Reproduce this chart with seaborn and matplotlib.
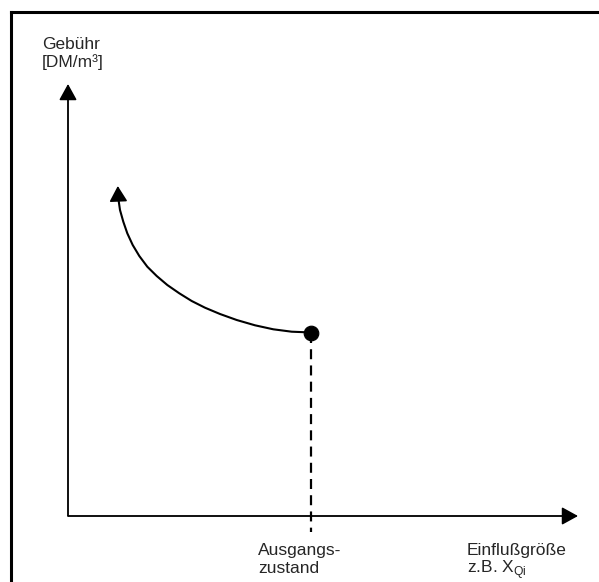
import matplotlib
matplotlib.use("Agg")
import matplotlib.pyplot as plt
import seaborn as sns
import pandas as pd

# Fee curve: rising fee as the influence variable moves away from the base state
curve_x = [243.0, 238.7, 223.7, 205.3, 187.0, 168.7, 152.0, 137.0, 123.7, 111.3,
           99.3, 88.7, 79.3, 71.3, 64.7, 59.3, 55.3, 52.0, 50.3, 49.8]
curve_y = [183.0, 183.7, 184.3, 186.7, 190.7, 196.0, 202.0, 208.3, 215.0, 222.7,
           231.0, 240.0, 249.3, 260.0, 271.0, 282.7, 294.3, 306.0, 317.7, 330.0]
base_x = [243]
base_y = [183]

y_label = ["Gebühr", "[DM/m³]"]
base_label = ["Ausgangs-", "zustand"]
x_label = ["Einflußgröße", "z.B. X$_{\\mathrm{Qi}}$"]

sns.set_style("white")
plt.rcParams["font.family"] = ["Liberation Sans", "DejaVu Sans"]
plt.rcParams["mathtext.fontset"] = "custom"
plt.rcParams["mathtext.rm"] = "Liberation Sans"

fig = plt.figure(figsize=(5.99, 5.82), dpi=100)
ax = fig.add_axes([0, 0, 1, 1])
ax.set_xlim(-68, 531)
ax.set_ylim(-66, 516)
ax.axis("off")

# Outer frame (top and left edges visible)
ax.plot([-57.5, 540], [504.5, 504.5], color="black", lw=2.2, clip_on=False,
        solid_capstyle="projecting")
ax.plot([-57.5, -57.5], [504.5, -80], color="black", lw=2.2, clip_on=False,
        solid_capstyle="projecting")

# Coordinate axes with arrowheads
axis_color = "#3a3a3a"
head = "-|>,head_length=1.0,head_width=0.55"
ax.annotate("", xy=(0, 432), xytext=(0, 0),
            arrowprops=dict(arrowstyle=head, color="black", lw=1.1,
                            mutation_scale=10, shrinkA=0, shrinkB=0))
ax.annotate("", xy=(510, 0), xytext=(0, 0),
            arrowprops=dict(arrowstyle=head, color="black", lw=1.1,
                            mutation_scale=10, shrinkA=0, shrinkB=0))
ax.plot([0, 0], [0, 420], color=axis_color, lw=1.2, solid_capstyle="butt")
ax.plot([0, 498], [0, 0], color=axis_color, lw=1.2, solid_capstyle="butt")

# Dashed marker for the base state
ax.plot([base_x[0], base_x[0]], [base_y[0], -16], color="black", lw=1.6,
        dashes=(4.5, 2.8))

# Fee curve
df = pd.DataFrame({"x": curve_x[:-1], "y": curve_y[:-1]})
sns.lineplot(data=df, x="x", y="y", sort=False, color="black", lw=1.5,
             ax=ax, legend=False, solid_joinstyle="round")
ax.annotate("", xy=(curve_x[-1], curve_y[-1]), xytext=(curve_x[-2], curve_y[-2]),
            arrowprops=dict(arrowstyle="-|>,head_length=0.95,head_width=0.55",
                            color="black", lw=1.2, mutation_scale=10,
                            shrinkA=0, shrinkB=0))
sns.scatterplot(x=base_x, y=base_y, s=110, color="black", edgecolor="black",
                ax=ax, zorder=5, legend=False)
ax.set_xlabel("")
ax.set_ylabel("")

fs = 12.5
ax.text(-26, 467, y_label[0], fontsize=fs, va="baseline", ha="left")
ax.text(-26, 449, y_label[1], fontsize=fs, va="baseline", ha="left")
ax.text(190, -39, base_label[0], fontsize=fs, va="baseline", ha="left")
ax.text(190, -57, base_label[1], fontsize=fs, va="baseline", ha="left")
ax.text(399, -39, x_label[0], fontsize=fs, va="baseline", ha="left")
ax.text(399, -57, x_label[1], fontsize=fs, va="baseline", ha="left")

fig.savefig("out.png", dpi=100)
